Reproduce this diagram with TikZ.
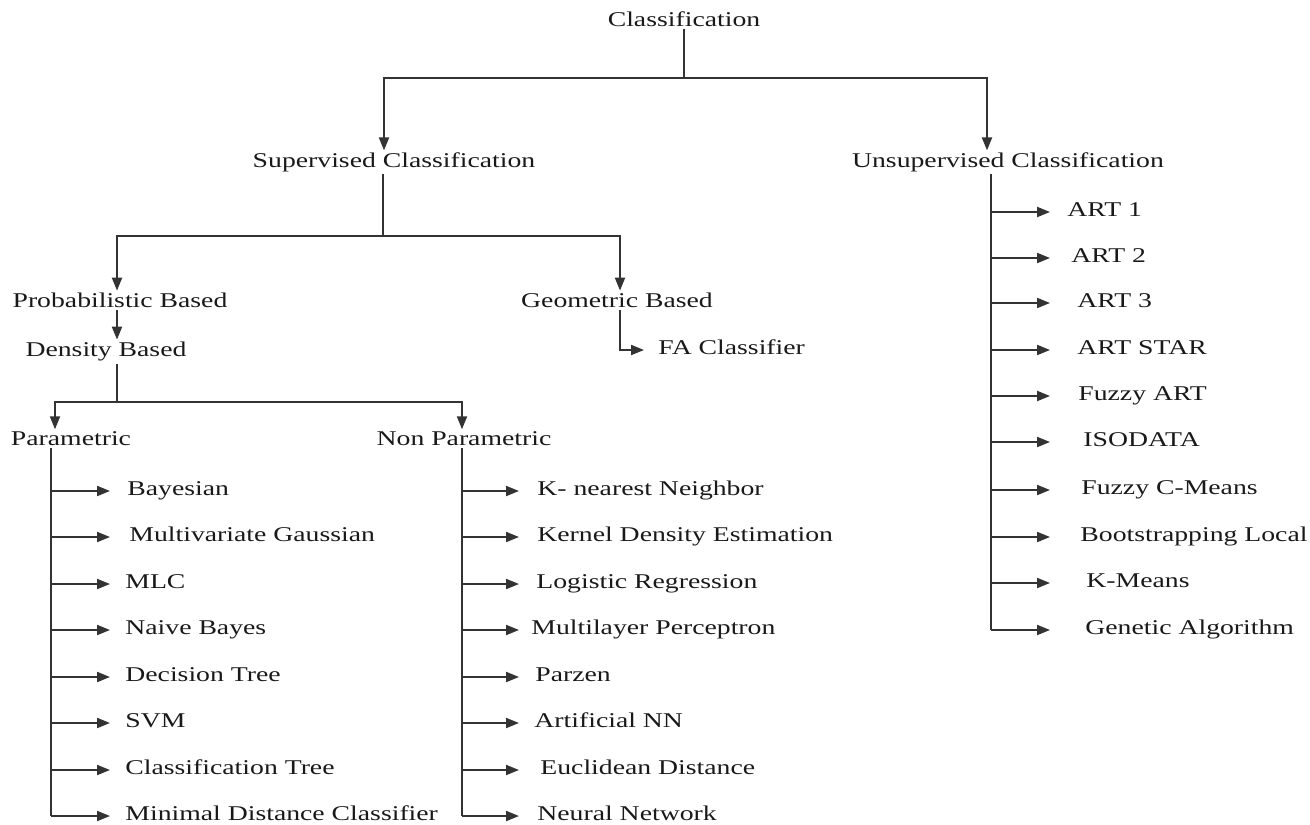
\documentclass[tikz,border=0pt]{standalone}
\usepackage{fontspec}
\setmainfont[FakeStretch=1.32]{Liberation Serif}
\usetikzlibrary{arrows.meta, positioning, calc}

\begin{document}
\begin{tikzpicture}[x=0.5pt, y=-0.5pt]

	% 定义样式
	\tikzset{
		label node/.style = {
			anchor=mid, inner sep=1pt,
			font=\fontsize{10.5}{12}\selectfont, text=black!90
		},
		leaf/.style = {label node, anchor=mid west, inner sep=0pt},
		link/.style = {line width=1pt, draw=black!80},
		with tip/.style = {link, -{Triangle[length=6.5pt, width=5pt]}}
	}
	\useasboundingbox (0,0) rectangle (1310,824);

	% 参数设置
	\def \ptip {110}
	\def \ntip {519}
	\def \utip {1050}

	% 主要节点
	\node[label node] (cls)  at (684,22)  {Classification};
	\node[label node] (sup)  at (394,163) {Supervised Classification};
	\node[label node] (uns)  at (1008,163) {Unsupervised Classification};
	\node[label node] (prob) at (120,303) {Probabilistic Based};
	\node[label node] (geo)  at (617,303) {Geometric Based};
	\node[label node] (dens) at (106,352) {Density Based};
	\node[leaf]       (fa)   at (658,350) {FA Classifier};
	\node[label node] (par)  at (71,441)  {Parametric};
	\node[label node] (npar) at (464,441) {Non Parametric};

	% 分支点
	\coordinate (j0) at (684,78);
	\coordinate (j1) at (383,236);
	\coordinate (j2) at (117,402);

	% 上层连线
	\draw[link] (cls) -- (j0);
	\draw[with tip] (j0) -| ([xshift=-5pt]sup.north);
	\draw[with tip] (j0) -| ([xshift=-10.5pt]uns.north);
	\draw[link] ([xshift=-5.5pt]sup.south) -- (j1);
	\draw[with tip] (j1) -| ([xshift=-1.5pt]prob.north);
	\draw[with tip] (j1) -| ([xshift=1.5pt]geo.north);
	\draw[with tip] ([xshift=-1.5pt]prob.south) -- ([xshift=5.5pt]dens.north);
	\draw[with tip, shorten >=7pt] ([xshift=1.5pt]geo.south) |- (fa.mid west);
	\draw[link] ([xshift=5.5pt]dens.south) -- (j2);
	\draw[with tip] (j2) -| ([xshift=-8pt]par.north);
	\draw[with tip] (j2) -| ([xshift=-1pt]npar.north);

	% Parametric 分支
	\foreach \i/\y/\x/\txt in {1/491/127/Bayesian, 2/537/129/Multivariate Gaussian,
		3/584/125/MLC, 4/630/125/Naive Bayes, 5/677/125/Decision Tree,
		6/723/125/SVM, 7/770/125/Classification Tree, 8/816/125/Minimal Distance Classifier} {
		\node[leaf] (pa\i) at (\x,\y) {\txt};
		\coordinate (pt\i) at (51,\y);
		\pgfmathsetmacro\sh{(\x-\ptip)/2}
		\draw[with tip, shorten >=\sh pt] (pt\i) -- (pa\i.mid west);
	}
	\draw[link] ([xshift=-10pt]par.south) -- (pt8);

	% Non Parametric 分支
	\foreach \i/\y/\x/\txt in {1/491/537/K- nearest Neighbor, 2/537/537/Kernel Density Estimation,
		3/584/536/Logistic Regression, 4/630/531/Multilayer Perceptron, 5/677/535/Parzen,
		6/723/534/Artificial NN, 7/770/540/Euclidean Distance, 8/816/537/Neural Network} {
		\node[leaf] (np\i) at (\x,\y) {\txt};
		\coordinate (nt\i) at (462,\y);
		\pgfmathsetmacro\sh{(\x-\ntip)/2}
		\draw[with tip, shorten >=\sh pt] (nt\i) -- (np\i.mid west);
	}
	\draw[link] ([xshift=-1pt]npar.south) -- (nt8);

	% Unsupervised 分支
	\foreach \i/\y/\x/\txt in {1/212/1067/ART 1, 2/258/1071/ART 2, 3/303/1077/ART 3,
		4/350/1077/ART STAR, 5/396/1078/Fuzzy ART, 6/442/1083/ISODATA,
		7/490/1081/Fuzzy C-Means, 8/537/1080/Bootstrapping Local,
		9/583/1086/K-Means, 10/630/1085/Genetic Algorithm} {
		\node[leaf] (un\i) at (\x,\y) {\txt};
		\coordinate (ut\i) at (991,\y);
		\pgfmathsetmacro\sh{(\x-\utip)/2}
		\draw[with tip, shorten >=\sh pt] (ut\i) -- (un\i.mid west);
	}
	\draw[link] ([xshift=-8.5pt]uns.south) -- (ut10);

\end{tikzpicture}
\end{document}
